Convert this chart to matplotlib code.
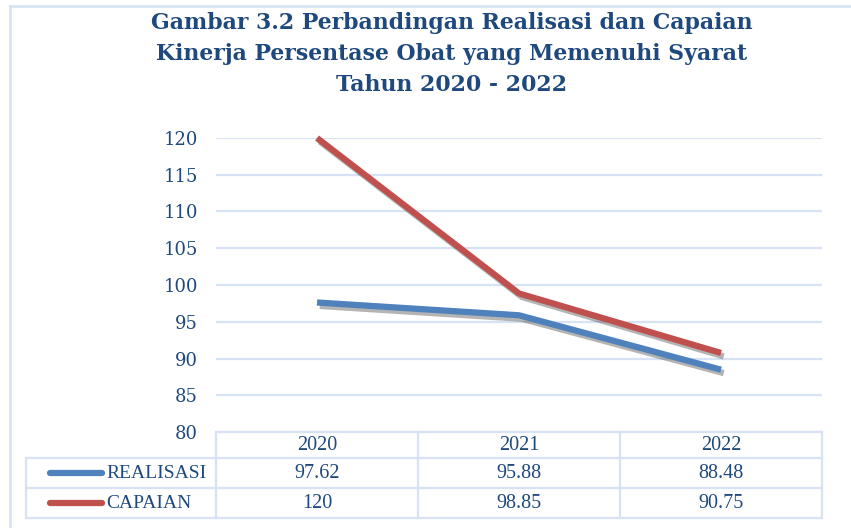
import matplotlib.pyplot as plt
import matplotlib.patheffects as pe
import matplotlib.transforms as mtransforms
from matplotlib.lines import Line2D

# === Data ===
years = ['2020', '2021', '2022']
realisasi = [97.62, 95.88, 88.48]
capaian = [120, 98.85, 90.75]
series_names = ['REALISASI', 'CAPAIAN']
series_labels = [['97.62', '95.88', '88.48'], ['120', '98.85', '90.75']]
y_ticks = [80, 85, 90, 95, 100, 105, 110, 115, 120]

title = ('Gambar 3.2 Perbandingan Realisasi dan Capaian\n'
         'Kinerja Persentase Obat yang Memenuhi Syarat\n'
         'Tahun 2020 - 2022')

# === Styling ===
W, H = 851, 528
navy = '#1F497D'
grid_c = '#D7E3F4'
colors = ['#4F81BD', '#C0504D']


def fy(y):
    return 1 - y / H


def fx(x):
    return x / W


fig = plt.figure(figsize=(W / 100, H / 100), dpi=100)

# frame around the chart
fig.add_artist(Line2D([fx(10), fx(10)], [fy(6), 0], color=grid_c, lw=2))
fig.add_artist(Line2D([fx(10), 1], [fy(6), fy(6)], color=grid_c, lw=2))

fig.text(fx(452), fy(54), title, ha='center', va='center', color=navy,
         fontsize=15.8, fontweight='bold', family='DejaVu Serif',
         linespacing=1.55)

ax = fig.add_axes([fx(216), fy(432), fx(822 - 216), fy(138) - fy(432)])
x = list(range(len(years)))
shadow = [pe.SimpleLineShadow(offset=(2, -2.5), shadow_color='#444444', alpha=0.4),
          pe.Normal()]
for vals, c in zip([realisasi, capaian], colors):
    ax.plot(x, vals, color=c, lw=4.5, solid_capstyle='butt', path_effects=shadow,
            zorder=3, clip_on=False)

ax.set_xlim(-0.5, len(years) - 0.5)
ax.set_ylim(80, 120)
ax.set_yticks(y_ticks)
ax.set_xticks([])
ax.tick_params(axis='y', length=0, pad=13, labelsize=13, labelcolor=navy)
for lab in ax.get_yticklabels():
    lab.set_family('DejaVu Serif')
ax.grid(axis='y', color=grid_c, lw=1.6)
ax.set_axisbelow(True)
for s in ax.spines.values():
    s.set_visible(False)

# === Data table below the axes ===
tr = mtransforms.blended_transform_factory(ax.transData, fig.transFigure)
row_y = [432, 458, 488, 518]
col_x = [-0.5 + i for i in range(len(years) + 1)]

# horizontal lines
ax.add_line(Line2D([-0.5, 2.5], [fy(row_y[0]), fy(row_y[0])], transform=tr,
                   color=grid_c, lw=1.6, clip_on=False))
for yy in row_y[1:]:
    fig.add_artist(Line2D([fx(26), fx(822)], [fy(yy), fy(yy)],
                          color=grid_c, lw=1.6))
# vertical lines
for cx in col_x:
    ax.add_line(Line2D([cx, cx], [fy(432), fy(518)], transform=tr,
                       color=grid_c, lw=1.6, clip_on=False))
fig.add_artist(Line2D([fx(26), fx(26)], [fy(458), fy(518)], color=grid_c, lw=1.6))

tfont = dict(family='Liberation Serif', fontsize=14.5, color=navy,
             ha='center', va='center')
for i, yr in enumerate(years):
    ax.text(i, fy(445), yr, transform=tr, clip_on=False, **tfont)
for r, (name, labels) in enumerate(zip(series_names, series_labels)):
    yc = fy((row_y[r + 1] + row_y[r + 2]) / 2)
    fig.add_artist(Line2D([fx(50), fx(102)], [yc, yc], color=colors[r], lw=4.5,
                          solid_capstyle='round'))
    fig.text(fx(106), yc, name, family='Liberation Serif', fontsize=14,
             color=navy, ha='left', va='center')
    for i, lab in enumerate(labels):
        ax.text(i, yc, lab, transform=tr, clip_on=False, **tfont)

fig.savefig('out.png', dpi=100)
